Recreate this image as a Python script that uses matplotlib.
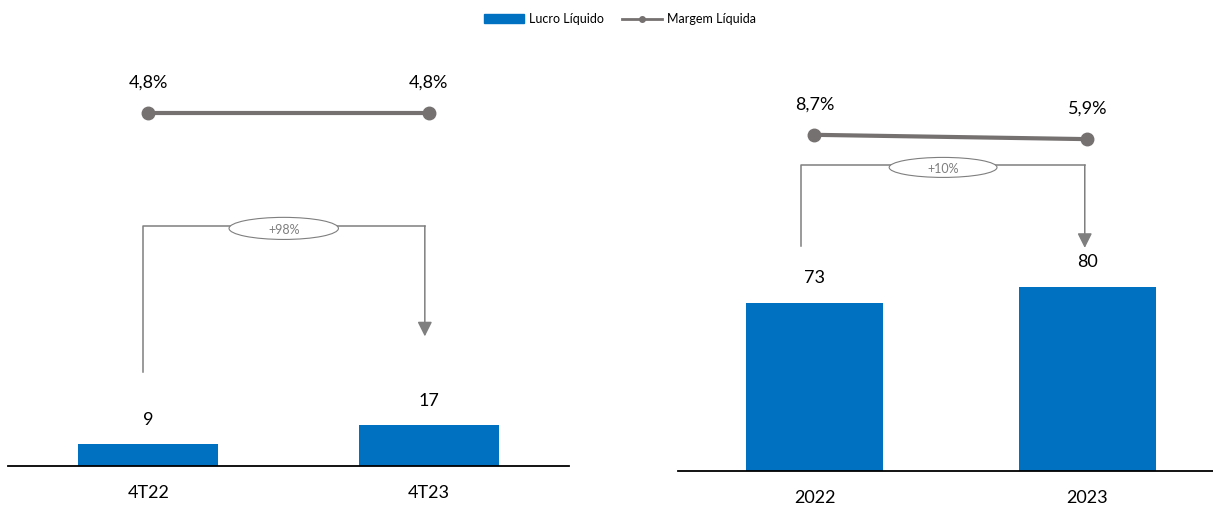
import matplotlib.pyplot as plt
from matplotlib.lines import Line2D
from matplotlib.patches import Patch, Ellipse

plt.rcParams['font.family'] = ['Lato', 'DejaVu Sans']

# data
quarters = ["4T22", "4T23"]
lucro_tri = [9, 17]
margem_tri = [4.8, 4.8]
margem_tri_lbl = ["4,8%", "4,8%"]
var_tri = "+98%"

years = ["2022", "2023"]
lucro_ano = [73, 80]
margem_ano = [8.7, 5.9]
margem_ano_lbl = ["8,7%", "5,9%"]
var_ano = "+10%"

BLUE = "#0070C0"
GREY = "#767171"
LGREY = "#7F7F7F"
W, H = 1213, 508

fig = plt.figure(figsize=(W / 100, H / 100), dpi=100)


def panel(rect, cats, vals, marg, marg_lbl, var, ylim, mlim, brk, ell):
    ax = fig.add_axes(rect)
    x = list(range(len(cats)))
    ax.bar(x, vals, width=0.5, color=BLUE, zorder=2)
    for xi, v in zip(x, vals):
        ax.annotate(str(v), (xi, v), xytext=(0, 12), textcoords="offset points",
                    ha="center", va="bottom", fontsize=13)
    ax.set_ylim(*ylim)
    ax.set_xticks(x)
    ax.set_xticklabels(cats, fontsize=13)
    ax.tick_params(length=0, pad=14)
    for s in ["top", "right", "left"]:
        ax.spines[s].set_visible(False)
    ax.spines["bottom"].set_linewidth(1.3)
    ax.set_yticks([])

    # variation bracket
    x0, x1, y0, ytop, ytip = brk
    ax.plot([x0, x0, x1], [y0, ytop, ytop], color=LGREY, lw=1.1, zorder=1)
    ax.annotate("", xy=(x1, ytip), xytext=(x1, ytop),
                arrowprops=dict(arrowstyle="-|>", color=LGREY, lw=1.1,
                                mutation_scale=22, shrinkA=0, shrinkB=0))
    xm = (x0 + x1) / 2
    ax.add_patch(Ellipse((xm, ytop - 1), ell[0], ell[1], fc="white",
                         ec=LGREY, lw=0.8, zorder=3))
    ax.text(xm, ytop - 1.5, var, ha="center", va="center", fontsize=9,
            color=LGREY, zorder=4)

    ax2 = ax.twinx()
    ax2.plot(x, marg, color=GREY, lw=3, marker="o", ms=9, zorder=3)
    for xi, m, lbl in zip(x, marg, marg_lbl):
        ax2.annotate(lbl, (xi, m), xytext=(0, 16), textcoords="offset points",
                     ha="center", va="bottom", fontsize=13)
    ax2.set_ylim(*mlim)
    ax2.axis("off")
    return ax


ax1 = panel([8 / W, 42 / H, 561 / W, 426 / H], quarters, lucro_tri, margem_tri,
            margem_tri_lbl, var_tri, (0, 177.5), (0, 5.79),
            (-0.02, 0.986, 39, 100, 54), (0.39, 9.2))
ax1.set_xlim(-0.5, 1.5)

ax3 = panel([678 / W, 37 / H, 546 / W, 431 / H], years, lucro_ano, margem_ano,
            margem_ano_lbl, var_ano, (0, 187.4), (-209.7, 70.3),
            (-0.048, 0.99, 98, 133, 97), (0.395, 8.7))
ax3.set_xlim(-0.5, 1.5)

handles = [Patch(color=BLUE),
           Line2D([0], [0], color=GREY, lw=2, marker="o", ms=4)]
fig.legend(handles, ["Lucro Líquido", "Margem Líquida"], loc="center",
           bbox_to_anchor=(620 / W, 1 - 19 / H), ncol=2, frameon=False,
           fontsize=9, handlelength=3.2, handleheight=0.7, columnspacing=1.5,
           handletextpad=0.4)

fig.savefig("out.png", dpi=100)
